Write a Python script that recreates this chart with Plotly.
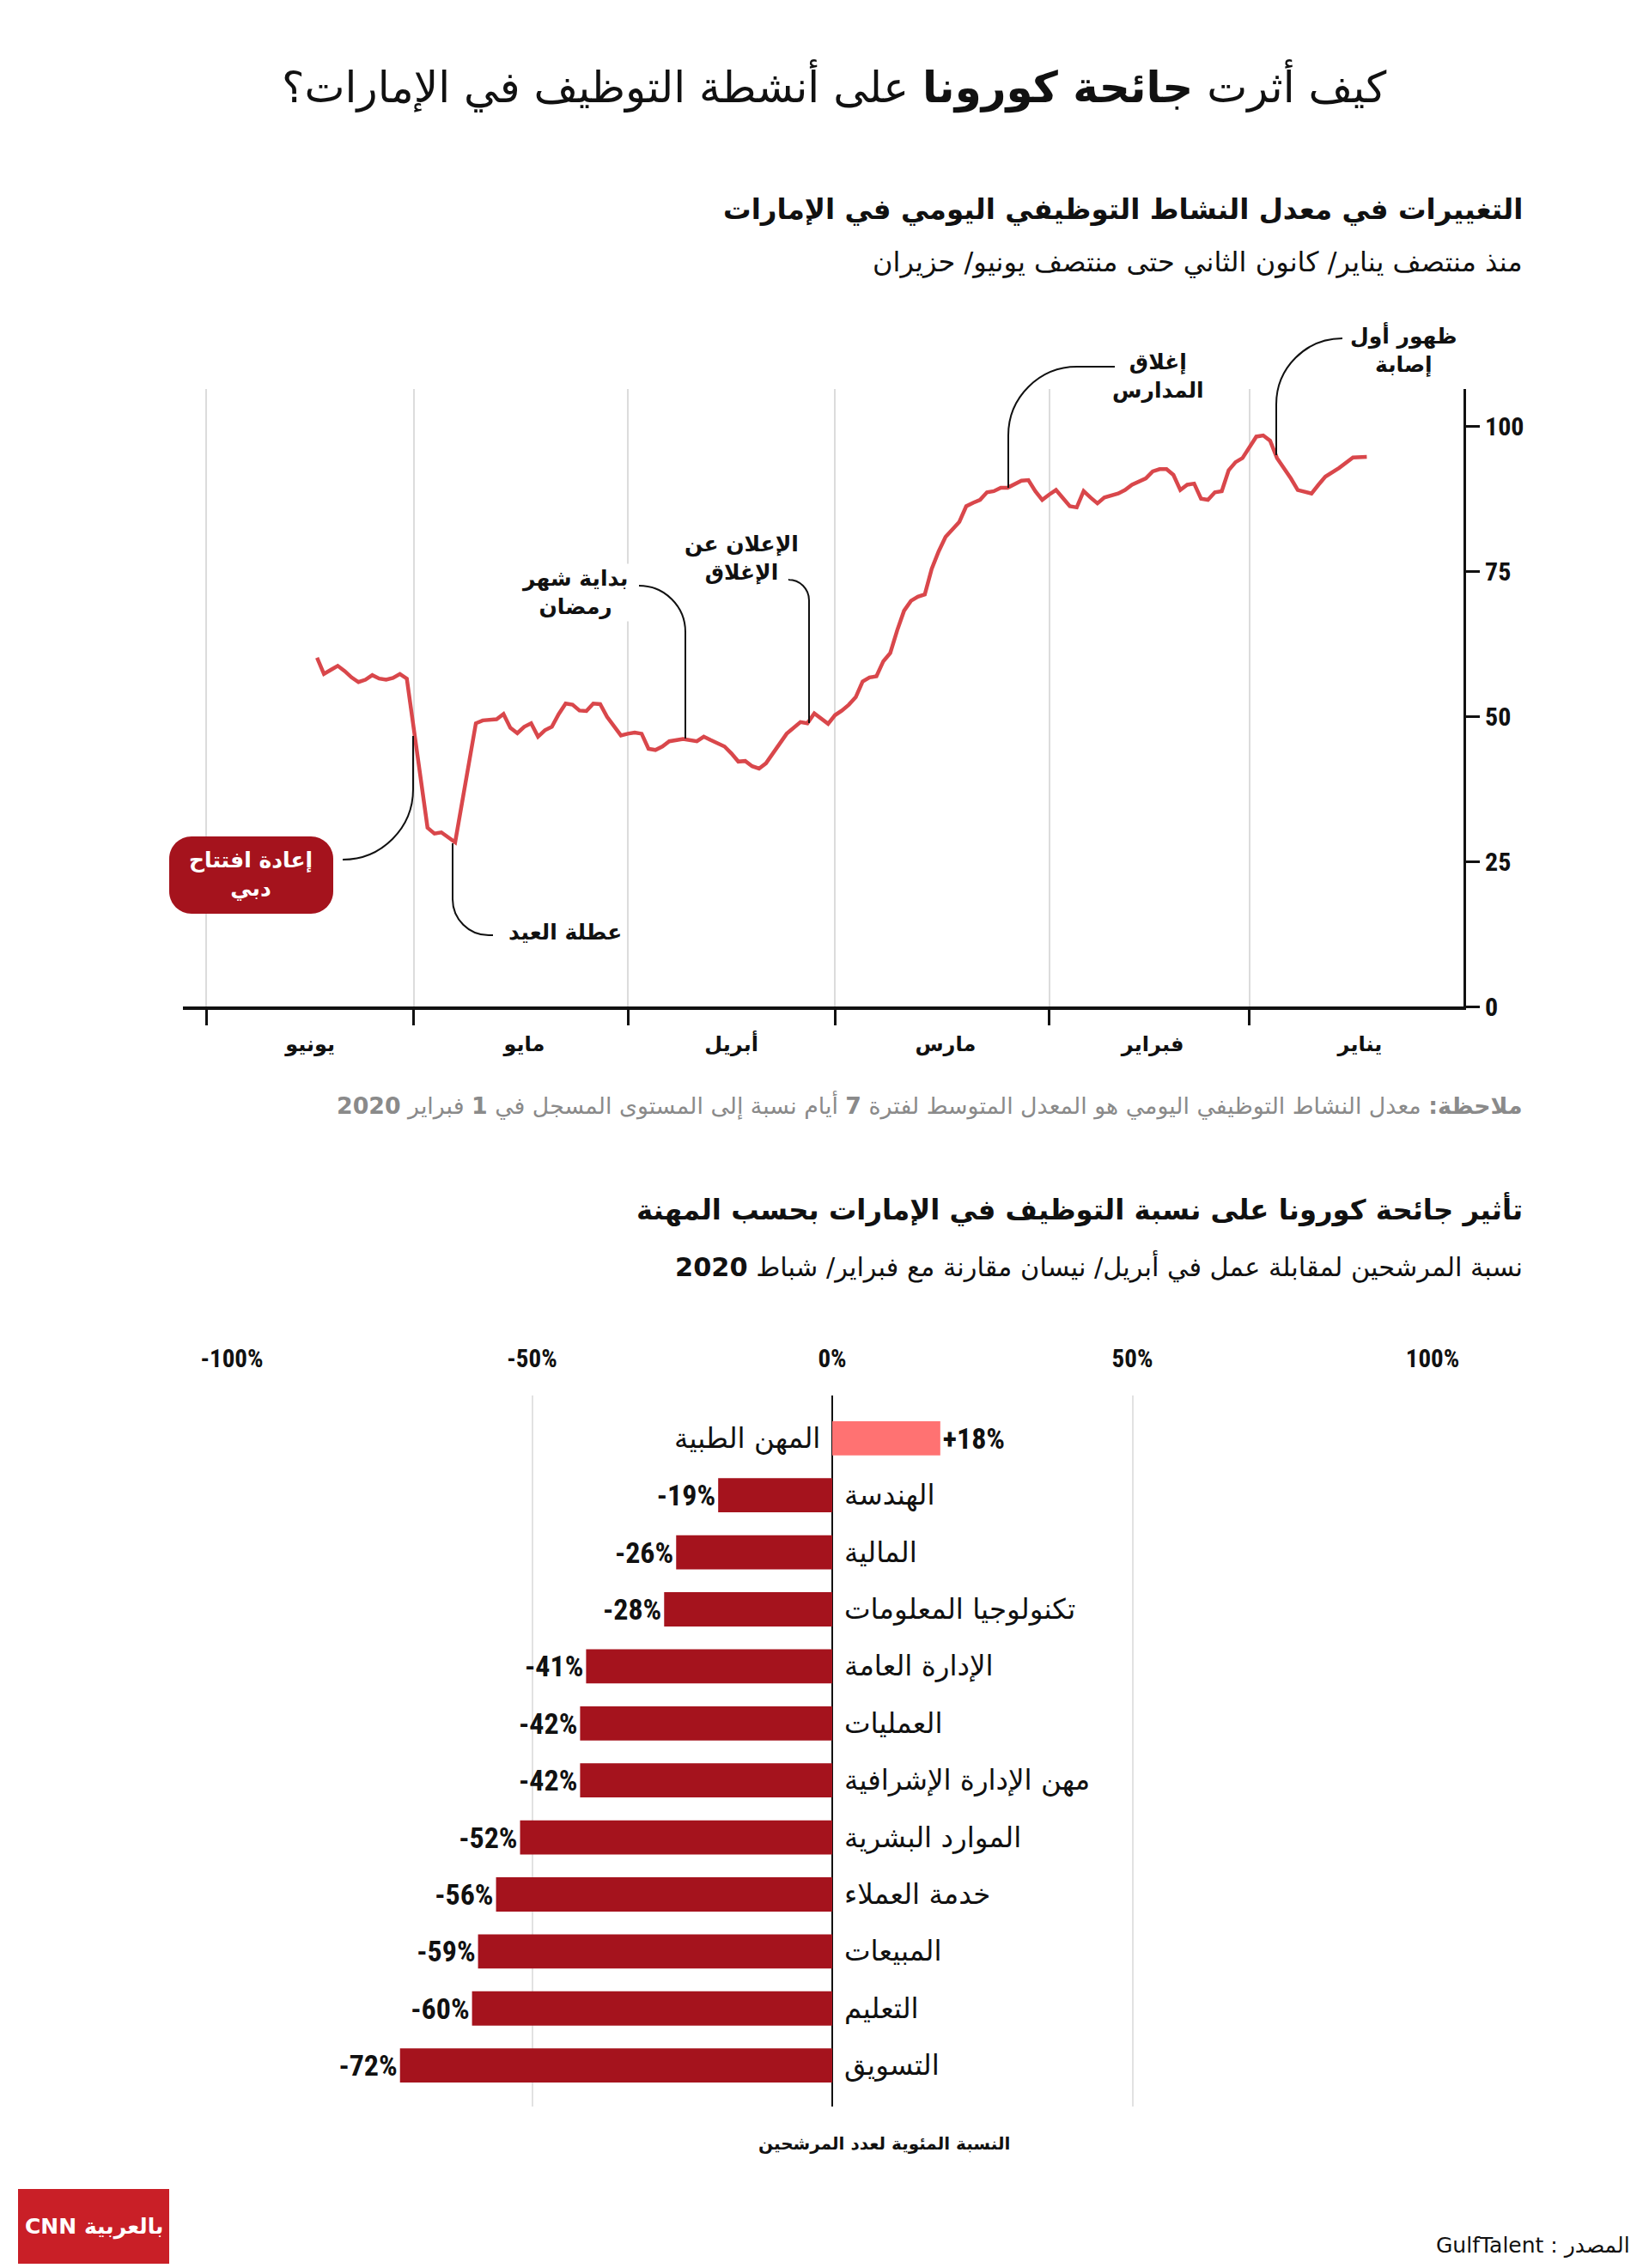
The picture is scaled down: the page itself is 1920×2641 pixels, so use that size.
import plotly.graph_objects as go

# ---------------- data ----------------
dates = [
    "2020-01-15", "2020-01-17", "2020-01-19", "2020-01-21", "2020-01-22", "2020-01-23",
    "2020-01-25", "2020-01-26", "2020-01-28", "2020-01-29", "2020-01-30", "2020-01-31",
    "2020-02-02", "2020-02-03", "2020-02-04", "2020-02-05", "2020-02-06", "2020-02-07",
    "2020-02-08", "2020-02-09", "2020-02-10", "2020-02-11", "2020-02-12", "2020-02-13",
    "2020-02-14", "2020-02-15", "2020-02-16", "2020-02-18", "2020-02-19", "2020-02-20",
    "2020-02-22", "2020-02-23", "2020-02-24", "2020-02-25", "2020-02-26", "2020-02-27",
    "2020-02-28", "2020-02-29", "2020-03-01", "2020-03-02", "2020-03-03", "2020-03-04",
    "2020-03-05", "2020-03-06", "2020-03-07", "2020-03-08", "2020-03-09", "2020-03-10",
    "2020-03-11", "2020-03-12", "2020-03-13", "2020-03-14", "2020-03-16", "2020-03-17",
    "2020-03-18", "2020-03-19", "2020-03-20", "2020-03-21", "2020-03-22", "2020-03-23",
    "2020-03-24", "2020-03-25", "2020-03-26", "2020-03-27", "2020-03-28", "2020-03-29",
    "2020-03-30", "2020-03-31", "2020-04-01", "2020-04-02", "2020-04-03", "2020-04-04",
    "2020-04-05", "2020-04-06", "2020-04-08", "2020-04-10", "2020-04-11", "2020-04-12",
    "2020-04-13", "2020-04-14", "2020-04-15", "2020-04-16", "2020-04-17", "2020-04-19",
    "2020-04-20", "2020-04-21", "2020-04-23", "2020-04-25", "2020-04-26", "2020-04-27",
    "2020-04-28", "2020-04-29", "2020-04-30", "2020-05-01", "2020-05-02", "2020-05-04",
    "2020-05-05", "2020-05-06", "2020-05-07", "2020-05-08", "2020-05-09", "2020-05-10",
    "2020-05-11", "2020-05-12", "2020-05-13", "2020-05-14", "2020-05-15", "2020-05-16",
    "2020-05-17", "2020-05-18", "2020-05-19", "2020-05-20", "2020-05-22", "2020-05-23",
    "2020-05-26", "2020-05-28", "2020-05-29", "2020-05-30", "2020-06-02", "2020-06-03",
    "2020-06-04", "2020-06-05", "2020-06-06", "2020-06-07", "2020-06-08", "2020-06-09",
    "2020-06-10", "2020-06-11", "2020-06-12", "2020-06-13", "2020-06-14", "2020-06-15",
]
activity = [
    94.7, 94.6, 92.8, 91.3, 89.9, 88.4,
    89.0, 91.0, 94.5, 97.5, 98.4, 98.2,
    94.5, 93.8, 92.4, 88.8, 88.6, 87.3,
    87.5, 90.1, 89.9, 89.0, 91.6, 92.6,
    92.6, 92.2, 91.0, 89.9, 89.0, 88.4,
    87.7, 86.7, 87.7, 88.8, 86.0, 86.2,
    87.6, 89.0, 88.2, 87.3, 88.8, 90.7,
    90.6, 90.0, 89.4, 89.4, 88.8, 88.6,
    87.3, 86.8, 86.2, 83.5, 80.9, 78.4,
    75.4, 71.0, 70.6, 69.9, 68.2, 64.8,
    60.9, 59.5, 56.9, 56.7, 56.0, 53.3,
    52.0, 51.0, 50.2, 48.7, 49.6, 50.5,
    48.8, 49.0, 47.0, 43.6, 41.9, 41.0,
    41.4, 42.3, 42.2, 43.6, 44.8, 45.9,
    46.5, 45.7, 46.1, 45.7, 44.8, 44.2,
    44.4, 47.0, 47.2, 47.0, 46.7, 49.9,
    52.1, 52.2, 50.9, 51.0, 52.0, 52.2,
    50.4, 48.2, 47.6, 46.5, 48.8, 48.2,
    47.1, 48.0, 50.4, 49.5, 49.3, 48.8,
    28.3, 30.0, 29.8, 30.8, 56.5, 57.3,
    56.6, 56.3, 56.5, 57.1, 56.3, 55.9,
    56.7, 57.8, 58.7, 58.0, 57.3, 60.1,
]
month_ticks = ["2020-01-16", "2020-02-15", "2020-03-16", "2020-04-16", "2020-05-16", "2020-06-16"]
month_names = ["يناير", "فبراير", "مارس", "أبريل", "مايو", "يونيو"]
month_starts = ["2020-02-01", "2020-03-01", "2020-04-01", "2020-05-01", "2020-06-01", "2020-07-01"]
y_ticks = [0, 25, 50, 75, 100]

professions = [
    "المهن الطبية", "الهندسة", "المالية", "تكنولوجيا المعلومات", "الإدارة العامة",
    "العمليات", "مهن الإدارة الإشرافية", "الموارد البشرية", "خدمة العملاء",
    "المبيعات", "التعليم", "التسويق",
]
change_pct = [18, -19, -26, -28, -41, -42, -42, -52, -56, -59, -60, -72]
pct_ticks = [-100, -50, 0, 50, 100]
pct_labels = ["-100%", "-50%", "0%", "50%", "100%"]

# ---------------- style ----------------
W, H = 1920, 2641
AR = "DejaVu Sans"
NUM = "Liberation Sans Narrow, Roboto Condensed, DejaVu Sans Condensed, Arial Narrow, sans-serif"
LINE_RED = "#d9474b"
DARK_RED = "#a5131d"
LIGHT_RED = "#ff7272"


def fx(x):
    return x / W


def fy(y):
    return 1 - y / H


def P(x, y):
    return f"{fx(x):.6f},{fy(y):.6f}"


def leader(x0, y0, xv, y1, r):
    dx = 1 if xv > x0 else -1
    dy = 1 if y1 > y0 else -1
    k = 0.5523
    hx = xv - dx * r
    return (f"M {P(x0, y0)} L {P(hx, y0)} "
            f"C {P(hx + dx * k * r, y0)} {P(xv, y0 + dy * r - dy * k * r)} {P(xv, y0 + dy * r)} "
            f"L {P(xv, y1)}")


def rrect(x0, y0, x1, y1, r):
    k = 0.5523
    return (f"M {P(x0 + r, y0)} L {P(x1 - r, y0)} "
            f"C {P(x1 - r + k * r, y0)} {P(x1, y0 + r - k * r)} {P(x1, y0 + r)} "
            f"L {P(x1, y1 - r)} "
            f"C {P(x1, y1 - r + k * r)} {P(x1 - r + k * r, y1)} {P(x1 - r, y1)} "
            f"L {P(x0 + r, y1)} "
            f"C {P(x0 + r - k * r, y1)} {P(x0, y1 - r + k * r)} {P(x0, y1 - r)} "
            f"L {P(x0, y0 + r)} "
            f"C {P(x0, y0 + r - k * r)} {P(x0 + r - k * r, y0)} {P(x0 + r, y0)} Z")


fig = go.Figure()

# line chart
fig.add_trace(go.Scatter(
    x=dates, y=activity, mode="lines",
    line=dict(color=LINE_RED, width=4.5),
    xaxis="x", yaxis="y", hoverinfo="skip", showlegend=False,
))

# bar chart
fig.add_trace(go.Bar(
    y=professions, x=change_pct, orientation="h",
    marker=dict(color=[LIGHT_RED if v > 0 else DARK_RED for v in change_pct], line=dict(width=0)),
    text=[f"{v:+d}%" for v in change_pct], textposition="outside",
    textfont=dict(family=NUM, size=34, color="#111", weight="bold"),
    constraintext="none", cliponaxis=False,
    xaxis="x2", yaxis="y2", hoverinfo="skip", showlegend=False,
))

layout = dict(
    width=W, height=H, autosize=False,
    margin=dict(l=0, r=0, t=0, b=0, pad=0, autoexpand=False),
    paper_bgcolor="white", plot_bgcolor="white",
    showlegend=False,
    bargap=0.4,
    xaxis=dict(
        type="date", domain=[fx(205), fx(1696)],
        range=["2020-07-04 10:00", "2020-01-01"],
        tickmode="array", tickvals=month_ticks, ticktext=month_names,
        ticks="outside", ticklen=19, tickcolor="rgba(0,0,0,0)",
        tickfont=dict(family=AR, size=24, color="#111", weight="bold"),
        showgrid=False, zeroline=False,
        showline=True, linewidth=4, linecolor="#111",
        minor=dict(tickvals=month_starts, ticks="outside", ticklen=18, tickwidth=3,
                   tickcolor="#111", showgrid=True, gridcolor="#dcdcdc", gridwidth=1.5),
        anchor="y", fixedrange=True, automargin=False,
    ),
    yaxis=dict(
        domain=[fy(1164), fy(445)], range=[0, 106.4],
        side="right", anchor="x",
        tickmode="array", tickvals=y_ticks,
        ticks="outside", ticklen=16, tickwidth=3, tickcolor="#111",
        tickfont=dict(family=NUM, size=30, color="#111", weight="bold"),
        showgrid=False, zeroline=False,
        showline=True, linewidth=3, linecolor="#111", fixedrange=True, automargin=False,
    ),
    xaxis2=dict(
        domain=[fx(262), fx(1660)], range=[-100, 100],
        side="top", anchor="y2",
        tickmode="array", tickvals=pct_ticks, ticktext=pct_labels,
        ticks="outside", ticklen=20, tickcolor="rgba(0,0,0,0)",
        tickfont=dict(family=NUM, size=29, color="#111", weight="bold"),
        showgrid=True, gridcolor="#e2e2e2", gridwidth=1.5,
        zeroline=True, zerolinecolor="#111", zerolinewidth=2,
        showline=False, fixedrange=True, automargin=False,
    ),
    yaxis2=dict(
        domain=[fy(2445), fy(1617)], anchor="x2",
        type="category", categoryorder="array", categoryarray=professions,
        range=[11.72, -0.75],
        showticklabels=False, showgrid=False, zeroline=False, showline=False,
        ticks="", fixedrange=True, automargin=False,
    ),
)
fig.update_layout(**layout)

ann = []


def text(x, y, t, size, bold=False, color="#111", xanchor="center", family=AR, bg=None, yanchor="middle"):
    d = dict(xref="paper", yref="paper", x=fx(x), y=fy(y), text=t, showarrow=False,
             xanchor=xanchor, yanchor=yanchor,
             font=dict(family=family, size=size, color=color, weight="bold" if bold else "normal"))
    if bg:
        d["bgcolor"] = bg
        d["borderpad"] = 2
    ann.append(d)


# titles
text(963, 93, "كيف أثرت <b>جائحة كورونا</b> على أنشطة التوظيف في الإمارات؟", 50)
text(1767, 236, "التغييرات في معدل النشاط التوظيفي اليومي في الإمارات", 32.5, bold=True, xanchor="right")
text(1767, 297, "منذ منتصف يناير/ كانون الثاني حتى منتصف يونيو/ حزيران", 32, xanchor="right")
text(1767, 1279, "<b>ملاحظة:</b> معدل النشاط التوظيفي اليومي هو المعدل المتوسط لفترة <b>7</b> أيام نسبة إلى المستوى المسجل في <b>1</b> فبراير <b>2020</b>",
     26.8, color="#8a8a8a", xanchor="right")
text(1767, 1400, "تأثير جائحة كورونا على نسبة التوظيف في الإمارات بحسب المهنة", 32.3, bold=True, xanchor="right")
text(1767, 1466, "نسبة المرشحين لمقابلة عمل في أبريل/ نيسان مقارنة مع فبراير/ شباط <b>2020</b>", 30.4, xanchor="right")
text(1021, 2488, "النسبة المئوية لعدد المرشحين", 20, bold=True)
# written in visual order so it reads right-to-left inside the left-to-right SVG text
text(1892, 2606, "GulfTalent : المصدر", 25, xanchor="right", family="Liberation Sans Narrow, " + AR)

# line-chart annotations
text(1626, 399, "ظهور أول<br>إصابة", 25, bold=True)
text(1340, 430, "إغلاق<br>المدارس", 25, bold=True)
text(855, 642, "الإعلان عن<br>الإغلاق", 25, bold=True)
text(661, 682, "بداية شهر<br>رمضان", 25, bold=True, bg="white")
text(650, 1077, "عطلة العيد", 25, bold=True, bg="white")
text(284, 1010, "إعادة افتتاح<br>دبي", 25, bold=True, color="white")

# bar category labels
for name, v in zip(professions, change_pct):
    ann.append(dict(xref="x2", yref="y2", x=0, y=name, text=name, showarrow=False,
                    xanchor="right" if v > 0 else "left", xshift=-12 if v > 0 else 12,
                    yanchor="middle",
                    font=dict(family=AR, size=32.5, color="#111")))

# logo
text(101, 2585, "CNN بالعربية", 25, bold=True, color="white")

fig.update_layout(annotations=ann)

shapes = [
    dict(type="path", xref="paper", yref="paper", path=rrect(189, 966, 380, 1056, 26),
         fillcolor=DARK_RED, line=dict(width=0), layer="above"),
    dict(type="rect", xref="paper", yref="paper", x0=fx(13), x1=fx(189), y0=fy(2628), y1=fy(2541),
         fillcolor="#c91f27", line=dict(width=0), layer="above"),
]
for (x0, y0, xv, y1, r) in [
    (1555, 386, 1478, 522, 77),
    (1290, 419, 1166, 560, 80),
    (911, 667, 934, 834, 24),
    (736, 674, 790, 852, 54),
    (566, 1081, 519, 974, 42),
    (391, 993, 473, 849, 82),
]:
    shapes.append(dict(type="path", xref="paper", yref="paper", path=leader(x0, y0, xv, y1, r),
                       line=dict(color="#111", width=2), layer="above"))
fig.update_layout(shapes=shapes)

fig.write_html("out.html")
